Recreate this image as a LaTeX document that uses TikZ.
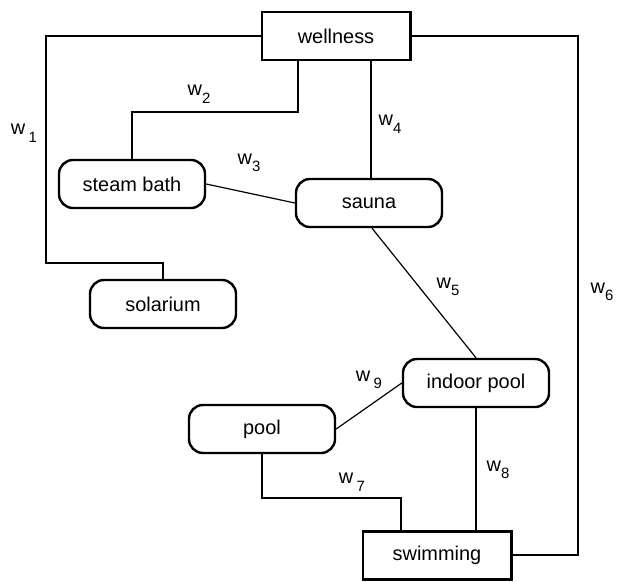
\documentclass[tikz,border=0pt]{standalone}
\usepackage{fontspec}
\setmainfont{Liberation Sans}
\usepackage{tikz}
\usetikzlibrary{positioning}
\newcommand{\wsub}[1]{\raisebox{-0.38em}{\fontsize{15}{15}\selectfont #1}}

\begin{document}
\begin{tikzpicture}[x=1bp,y=-1bp,
    font=\fontsize{20}{24}\selectfont,
    place/.style={draw, line width=2.4pt, rounded corners=14bp,
      minimum width=146bp, minimum height=48bp, inner sep=2pt},
    hub/.style={draw, line width=3pt,
      minimum width=148bp, minimum height=48bp, inner sep=2pt},
    link/.style={line width=1.2pt},
    wlab/.style={inner sep=1pt}]
  \useasboundingbox (0,0) rectangle (621,582);

  % areas
  \node[hub]   (wellness) at (336,36)  {wellness};
  \node[place] (steam)    at (132,184) {steam bath};
  \node[place] (sauna)    at (369,203) {sauna};
  \node[place] (solarium) at (163,304) {solarium};
  \node[place] (indoor)   at (476,383) {indoor pool};
  \node[place] (pool)     at (262,429) {pool};
  \node[hub]   (swimming) at (437,555) {swimming};

  % bends
  \coordinate (c1) at (46,263);
  \coordinate (c2) at (132,112);
  \coordinate (c6) at (578,555);
  \coordinate (c7) at (401,498);

  % links
  \draw[link] (wellness.west) -| (c1) -| (solarium.north);
  \draw[link] ([xshift=-38bp]wellness.south) |- (c2) -- (steam.north);
  \draw[link] (steam.east) -- (sauna.west);
  \draw[link] ([xshift=35bp]wellness.south) -- ([xshift=35bp]wellness.south |- sauna.north);
  \draw[link] ([xshift=3bp]sauna.south) -- (indoor.north);
  \draw[link] (wellness.east) -| (c6) -- (swimming.east);
  \draw[link] (pool.south) |- (c7) -- (c7 |- swimming.north);
  \draw[link] (indoor.south) -- (indoor.south |- swimming.north);
  \draw[link] (pool.east) -- (indoor.west);

  % weights
  \node[wlab] (w1) at (24,133)  {w\,\wsub{1}};
  \node[wlab] (w2) at (199,94)  {w\wsub{2}};
  \node[wlab] (w3) at (249,163) {w\wsub{3}};
  \node[wlab] (w4) at (390,124) {w\wsub{4}};
  \node[wlab] (w5) at (448,287) {w\wsub{5}};
  \node[wlab] (w6) at (602,292) {w\wsub{6}};
  \node[wlab] (w7) at (352,482) {w\,\wsub{7}};
  \node[wlab] (w8) at (498,470) {w\wsub{8}};
  \node[wlab] (w9) at (369,380) {w\,\wsub{9}};
\end{tikzpicture}
\end{document}
